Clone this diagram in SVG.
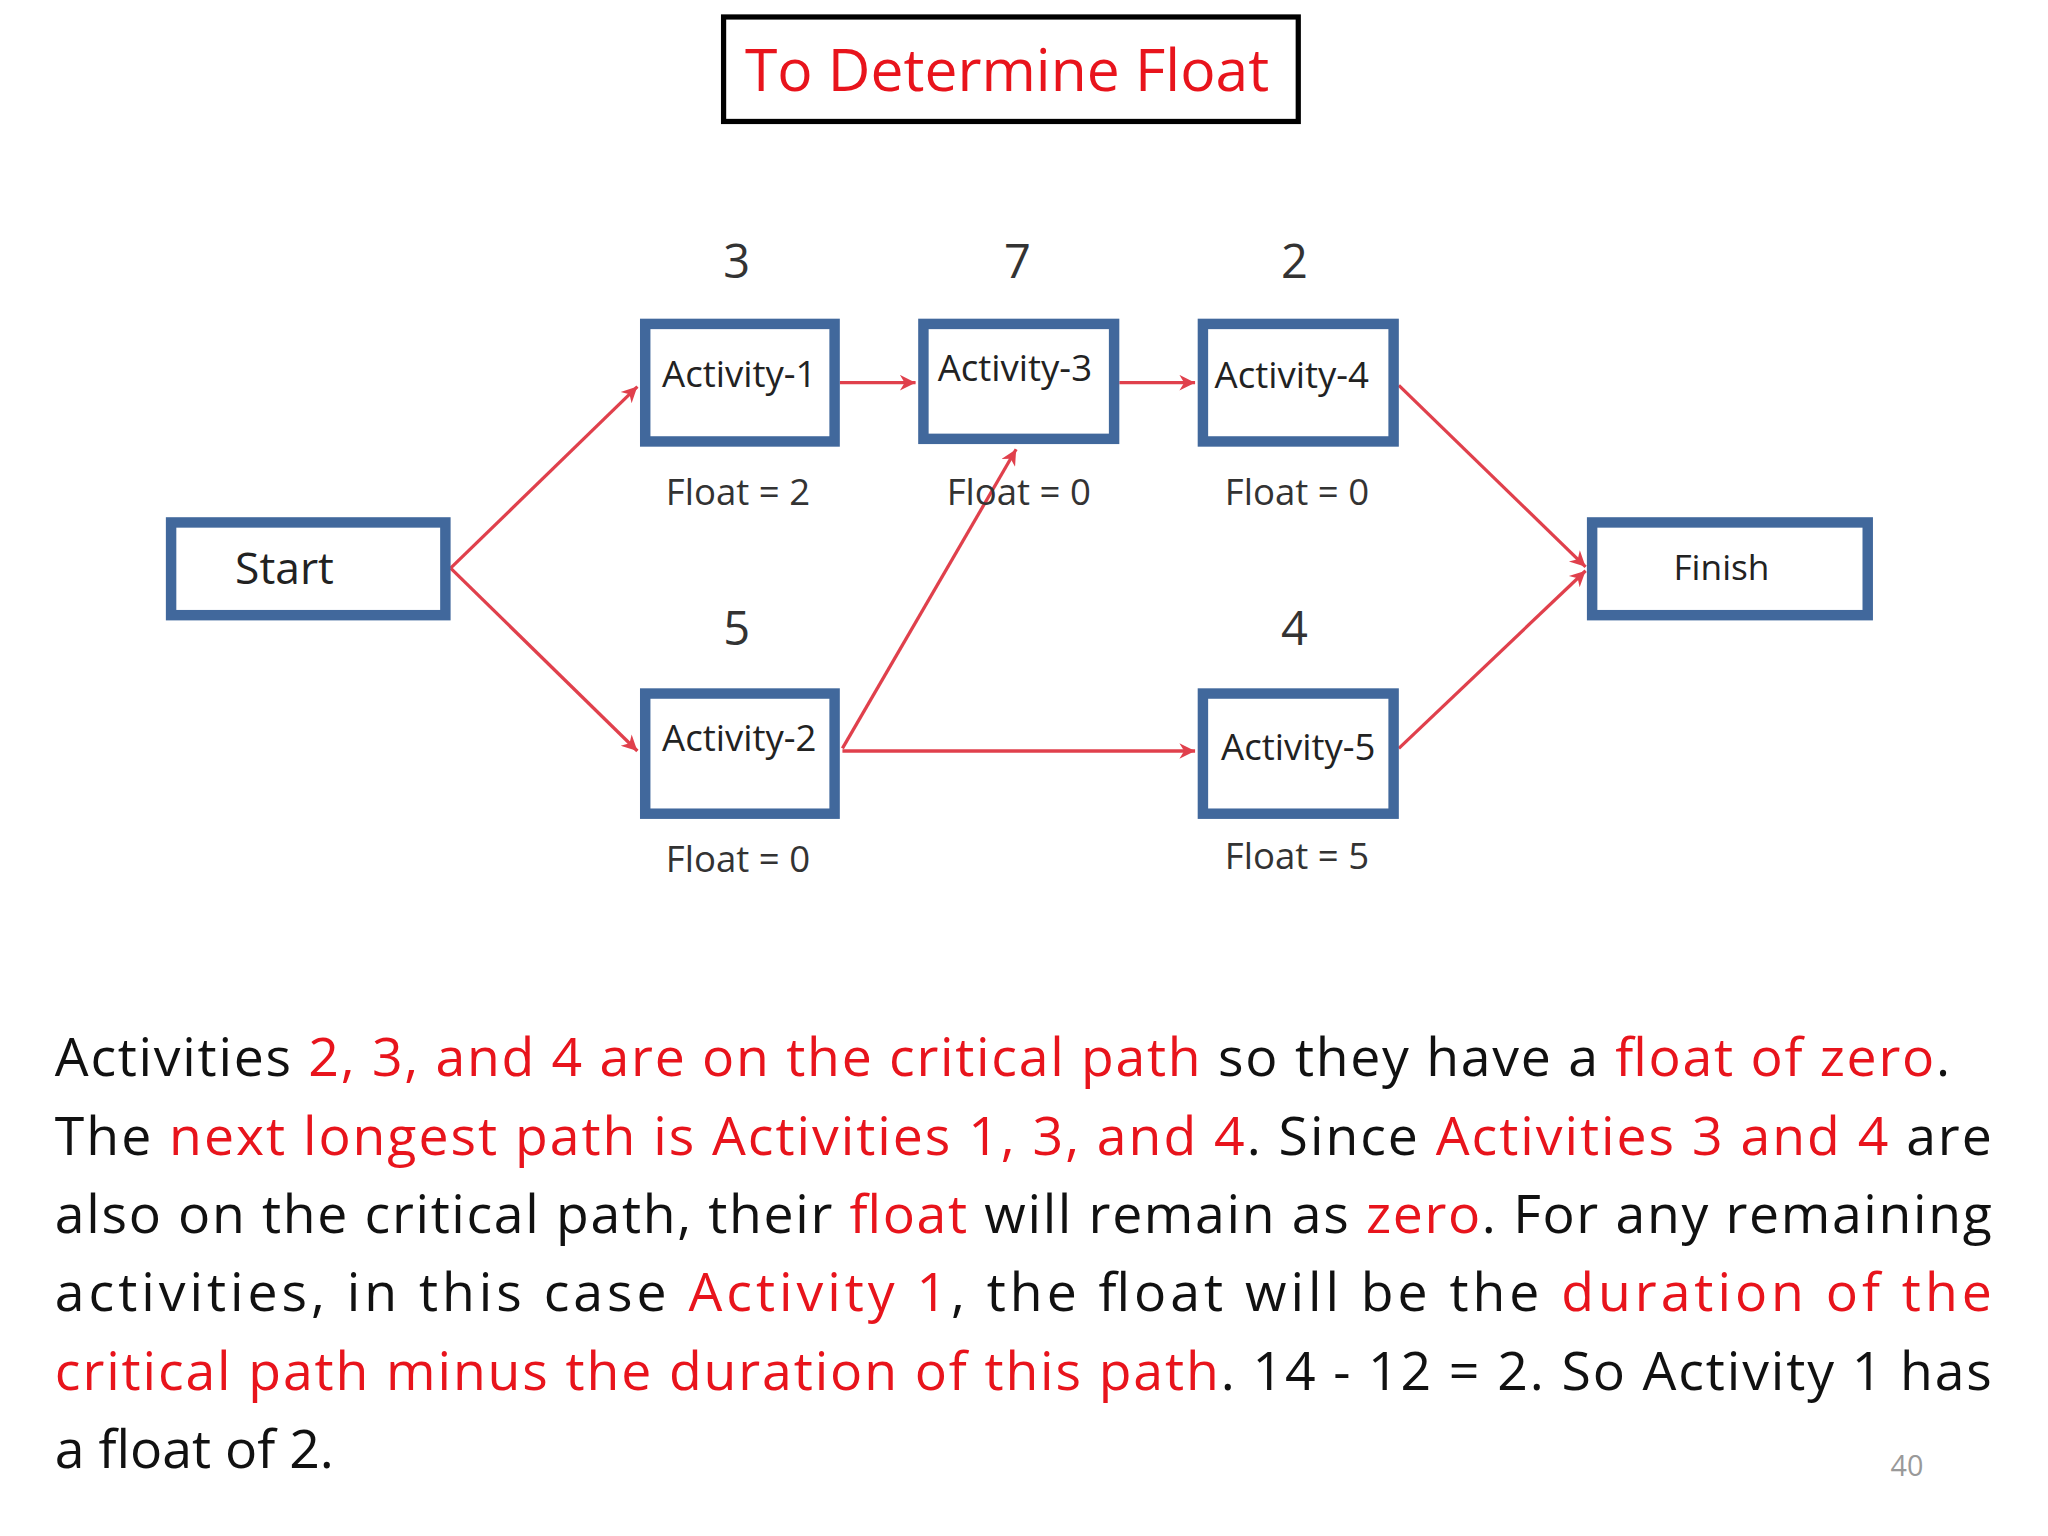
<svg xmlns="http://www.w3.org/2000/svg" width="2048" height="1536" viewBox="0 0 2048 1536">
<defs>
<style>
.box{fill:#fff;stroke:#41689c;stroke-width:8}
.t{font-family:"Open Sans","Liberation Sans",sans-serif;fill:#222}
.n{font-family:"Open Sans","Liberation Sans",sans-serif;font-size:36px;fill:#333;text-anchor:middle}
.f{font-family:"Open Sans","Liberation Sans",sans-serif;font-size:28px;fill:#333;text-anchor:middle}
.c{stroke:#e0404c;stroke-width:2.5;fill:none;marker-end:url(#ah)}
.p{font-family:"Open Sans","Liberation Sans",sans-serif;font-size:41px;fill:#111}
.r{fill:#e8141c}
</style>
<marker id="ah" viewBox="0 0 10 10" refX="10" refY="5" markerWidth="14" markerHeight="12" orient="auto" markerUnits="userSpaceOnUse"><path d="M0,0 L10,5 L0,10 L3,5 z" fill="#e0404c"/></marker>
</defs>
<rect width="2048" height="1536" fill="#fff"/>
<g transform="scale(1.3061)">
<g id="title"><rect x="554" y="13" width="440" height="80" fill="#fff" stroke="#000" stroke-width="4"/><text x="771" y="70" font-family="Open Sans,Liberation Sans,sans-serif" font-size="45" fill="#e8141c" text-anchor="middle">To Determine Float</text></g>
<g id="connectors">
<line class="c" x1="345" y1="435" x2="488" y2="296"/>
<line class="c" x1="345" y1="435" x2="488" y2="575"/>
<line class="c" x1="643" y1="293" x2="701" y2="293"/>
<line class="c" x1="857" y1="293" x2="915" y2="293"/>
<line class="c" x1="645" y1="573" x2="778" y2="344"/>
<line class="c" x1="645" y1="575" x2="915" y2="575"/>
<line class="c" x1="1071" y1="295" x2="1214" y2="434"/>
<line class="c" x1="1071" y1="573" x2="1214" y2="437"/>
</g>
<g id="start"><rect class="box" x="131" y="400" width="210" height="71" stroke-width="10"/><text class="t" x="180" y="447" font-size="34">Start</text></g>
<g id="finish"><rect class="box" x="1219" y="400" width="211" height="71"/><text class="t" x="1318" y="444" font-size="27" text-anchor="middle">Finish</text></g>
<g id="a1"><text class="n" x="564" y="213">3</text><rect class="box" x="494" y="248" width="145" height="90"/><text class="t" x="566" y="296" font-size="28" text-anchor="middle">Activity-1</text><text class="f" x="565" y="387">Float = 2</text></g>
<g id="a3"><text class="n" x="779" y="213">7</text><rect class="box" x="707" y="248" width="146" height="88"/><text class="t" x="777" y="292" font-size="28" text-anchor="middle">Activity-3</text><text class="f" x="780" y="387">Float = 0</text></g>
<g id="a4"><text class="n" x="991" y="213">2</text><rect class="box" x="921" y="248" width="146" height="90"/><text class="t" x="989" y="297" font-size="28" text-anchor="middle">Activity-4</text><text class="f" x="993" y="387">Float = 0</text></g>
<g id="a2"><text class="n" x="564" y="494">5</text><rect class="box" x="494" y="531" width="145" height="92"/><text class="t" x="566" y="575" font-size="28" text-anchor="middle">Activity-2</text><text class="f" x="565" y="668">Float = 0</text></g>
<g id="a5"><text class="n" x="991" y="494">4</text><rect class="box" x="921" y="531" width="146" height="92"/><text class="t" x="994" y="582" font-size="28" text-anchor="middle">Activity-5</text><text class="f" x="993" y="665">Float = 5</text></g>
<g id="para">
<text class="p" x="42" y="824" textLength="1451" lengthAdjust="spacing">Activities <tspan class="r">2, 3, and 4 are on the critical path</tspan> so they have a <tspan class="r">float of zero</tspan>.</text>
<text class="p" x="42" y="884" textLength="1483" lengthAdjust="spacing">The <tspan class="r">next longest path is Activities 1, 3, and 4</tspan>. Since <tspan class="r">Activities 3 and 4</tspan> are</text>
<text class="p" x="42" y="944" textLength="1483" lengthAdjust="spacing">also on the critical path, their <tspan class="r">float</tspan> will remain as <tspan class="r">zero</tspan>. For any remaining</text>
<text class="p" x="42" y="1004" textLength="1483" lengthAdjust="spacing">activities, in this case <tspan class="r">Activity 1</tspan>, the float will be the <tspan class="r">duration of the</tspan></text>
<text class="p" x="42" y="1064" textLength="1483" lengthAdjust="spacing"><tspan class="r">critical path minus the duration of this path</tspan>. 14 - 12 = 2. So Activity 1 has</text>
<text class="p" x="42" y="1124">a float of 2.</text>
</g>
<text x="1460" y="1130" font-family="Open Sans,Liberation Sans,sans-serif" font-size="22" fill="#999" text-anchor="middle">40</text>
</g>
</svg>
